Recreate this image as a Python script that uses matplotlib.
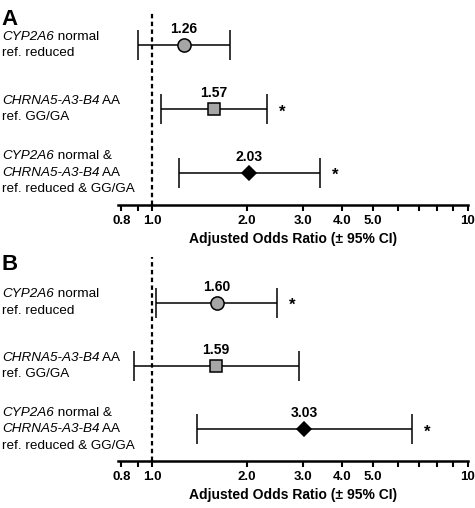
import matplotlib
matplotlib.use('Agg')
import matplotlib.pyplot as plt
import matplotlib.transforms as mtransforms
from matplotlib.ticker import FixedLocator, NullFormatter, FixedFormatter

plt.rcParams['font.family'] = ['Liberation Sans', 'DejaVu Sans']

# row labels, top to bottom; each line is a list of (text, italic) pieces
labels = [
    [[('CYP2A6', True), (' normal', False)],
     [('ref. reduced', False)]],
    [[('CHRNA5-A3-B4', True), (' AA', False)],
     [('ref. GG/GA', False)]],
    [[('CYP2A6', True), (' normal &', False)],
     [('CHRNA5-A3-B4', True), (' AA', False)],
     [('ref. reduced & GG/GA', False)]],
]
markers = ['o', 's', 'D']
colors = ['#a6a6a6', '#a6a6a6', 'black']
msizes = [9.5, 8.5, 7.5]

or_a = [1.26, 1.57, 2.03]
lo_a = [0.90, 1.07, 1.22]
hi_a = [1.76, 2.31, 3.39]
sig_a = [False, True, True]

or_b = [1.60, 1.59, 3.03]
lo_b = [1.03, 0.875, 1.39]
hi_b = [2.49, 2.91, 6.66]
sig_b = [True, False, True]

major_ticks = [0.8, 1.0, 2.0, 3.0, 4.0, 5.0, 10]
major_labels = ['0.8', '1.0', '2.0', '3.0', '4.0', '5.0', '10']
minor_ticks = [0.9, 6, 7, 8, 9]

fig = plt.figure(figsize=(4.75, 5.08), dpi=100)
LINE_PT = 16.5 * 0.72  # line spacing of row labels


def row_label(ax, trans, y, lines):
    n = len(lines)
    for k, pieces in enumerate(lines):
        dy = ((n - 1) / 2 - k) * LINE_PT
        prev = None
        for txt, it in pieces:
            style = 'italic' if it else 'normal'
            if prev is None:
                prev = ax.annotate(txt, xy=(0.004, y), xycoords=trans,
                                   xytext=(0, dy), textcoords='offset points',
                                   ha='left', va='center', fontsize=9.7,
                                   fontstyle=style)
            else:
                prev = ax.annotate(txt, xy=(1, 0.5), xycoords=prev,
                                   ha='left', va='center', fontsize=9.7,
                                   fontstyle=style)


def draw_panel(rect, ors, los, his, sigs, letter, ylim_top):
    ax = fig.add_axes(rect)
    ax.set_xscale('log')
    ax.set_xlim(0.78, 10)
    ax.set_ylim(0.5, ylim_top)
    ypos = [3, 2, 1]
    trans = mtransforms.blended_transform_factory(fig.transFigure, ax.transData)
    for i in range(3):
        y = ypos[i]
        ax.errorbar([ors[i]], [y], xerr=[[ors[i] - los[i]], [his[i] - ors[i]]],
                    fmt='none', ecolor='black', elinewidth=1.1, capsize=10.5,
                    capthick=1.1, zorder=2)
        ax.plot([ors[i]], [y], marker=markers[i], ms=msizes[i],
                mfc=colors[i], mec='black', mew=1.1, ls='none', zorder=3)
        ax.annotate(f'{ors[i]:.2f}', (ors[i], y), xytext=(0, 6.5),
                    textcoords='offset points', ha='center', va='bottom',
                    fontsize=10, fontweight='bold')
        if sigs[i]:
            ax.annotate('*', (his[i], y), xytext=(11, -2),
                        textcoords='offset points', ha='center', va='center',
                        fontsize=12, fontweight='bold')
        row_label(ax, trans, y, labels[i])
    ax.axvline(1.0, color='black', ls=(0, (2, 1.5)), lw=1.6, zorder=1)
    for s in ['top', 'right', 'left']:
        ax.spines[s].set_visible(False)
    ax.spines['bottom'].set_linewidth(1.8)
    ax.set_yticks([])
    ax.xaxis.set_major_locator(FixedLocator(major_ticks))
    ax.xaxis.set_major_formatter(FixedFormatter(major_labels))
    ax.xaxis.set_minor_locator(FixedLocator(minor_ticks))
    ax.xaxis.set_minor_formatter(NullFormatter())
    ax.tick_params(axis='x', which='both', direction='out', length=4,
                   width=1.5, labelsize=9.5, pad=3)
    for t in ax.get_xticklabels():
        t.set_fontweight('bold')
    ax.set_xlabel('Adjusted Odds Ratio (± 95% CI)', fontsize=10,
                  fontweight='bold', labelpad=4)
    fig.text(0.004, rect[1] + rect[3] + 0.005, letter, fontsize=16,
             fontweight='bold', ha='left', va='top')
    return ax


draw_panel([0.2484, 0.5965, 0.7366, 0.3799], or_a, lo_a, hi_a, sig_a, 'A', 3.516)
draw_panel([0.2484, 0.0925, 0.7366, 0.4016], or_b, lo_b, hi_b, sig_b, 'B', 3.72)

fig.savefig('out.png', dpi=100)
